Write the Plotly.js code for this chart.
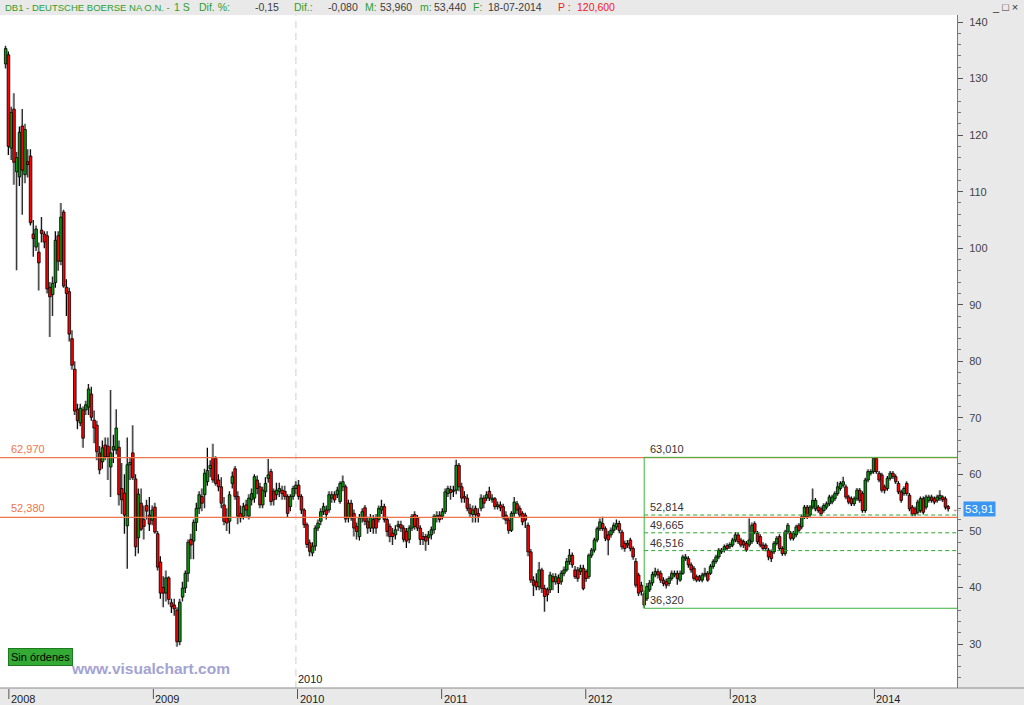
<!DOCTYPE html>
<html><head><meta charset="utf-8">
<script src="https://cdn.plot.ly/plotly-3.0.1.min.js"></script>
<style>html,body{margin:0;padding:0;background:#e9e9e9;}#chart{width:1024px;height:705px;}</style>
</head><body><div id="chart"></div>
<script>
// Weekly candles, first week starting 2007-12-31
const weekStart = '2007-12-31';
const open = [
132.6,134.2,117.7,124.6,113.5,112.6,121.6,113.0,115.3,116.3,
102.5,100.2,99.3,103.2,102.5,102.2,93.1,91.8,93.9,102.2,
97.7,106.4,93.1,92.3,84.0,78.6,71.5,69.1,71.4,71.4,
71.9,74.2,69.6,68.7,63.8,62.2,65.2,65.0,61.3,64.3,
64.3,64.8,57.5,56.7,50.9,61.7,63.8,59.2,48.8,54.9,
52.0,54.5,52.8,51.9,54.2,49.5,44.5,40.0,39.0,41.7,
37.3,36.9,36.0,30.4,38.3,39.9,42.5,48.5,48.2,51.5,
54.0,56.1,56.4,58.7,61.0,63.0,62.8,59.0,57.8,54.6,
52.3,51.7,58.4,61.0,56.1,53.1,52.6,54.6,52.6,55.5,
55.8,59.0,57.8,54.6,56.9,59.3,60.5,57.0,56.4,57.0,
57.2,57.0,56.1,54.3,56.1,57.5,58.1,56.1,53.7,51.1,
47.9,46.1,47.3,50.5,51.7,53.4,53.7,53.7,55.8,56.4,
56.4,55.2,57.8,57.8,52.3,54.9,53.1,50.8,49.0,52.3,
54.1,51.7,50.5,52.0,52.3,52.0,53.7,54.3,52.0,50.8,
49.6,49.3,50.8,51.1,50.5,49.9,48.5,50.5,52.9,52.3,
50.5,49.0,49.0,48.8,49.3,50.2,52.4,52.8,52.6,53.4,
56.6,57.3,57.0,57.2,61.6,57.8,56.1,55.8,54.0,52.9,
54.0,53.1,54.0,55.8,55.8,57.0,55.5,55.7,54.3,54.6,
54.3,52.8,51.9,50.1,53.1,54.8,54.0,53.1,52.8,51.0,
46.3,41.3,41.0,40.1,43.1,39.8,39.6,39.6,41.9,41.0,
41.7,41.0,42.5,43.1,44.6,45.7,43.1,43.1,42.8,43.4,
42.8,41.9,45.7,46.6,48.4,50.4,51.3,50.4,49.3,49.3,
50.1,50.7,51.3,49.8,47.8,47.5,48.4,46.9,44.6,42.2,
40.4,38.9,38.0,39.6,40.8,42.2,42.8,42.5,41.3,41.0,
40.7,41.6,42.2,42.5,41.3,42.5,45.1,45.1,44.0,43.4,
41.9,41.9,41.3,42.2,42.5,42.5,43.7,44.6,45.4,46.3,
46.6,47.4,47.2,47.5,48.4,49.3,48.4,48.1,47.8,47.5,
48.1,51.3,49.6,49.0,47.5,47.5,46.6,46.3,46.3,47.8,
49.0,46.9,46.0,49.8,49.6,48.7,49.3,51.0,50.7,52.5,
54.2,52.8,54.2,53.9,54.2,53.9,53.6,54.2,54.8,55.1,
55.7,56.6,57.5,58.1,57.8,56.0,55.7,54.8,55.7,57.2,
56.6,53.6,59.0,60.2,60.5,62.8,60.2,59.9,57.8,57.5,
59.3,60.2,59.6,58.4,56.9,56.6,58.4,56.3,54.2,53.9,
53.3,53.6,55.7,54.2,55.4,56.0,55.7,55.4,55.7,56.0,
55.7,54.3];
const high = [
135.8,134.8,125.0,127.4,117.0,121.5,124.6,122.0,117.5,117.5,
105.0,104.0,101.0,105.5,103.0,103.0,94.0,95.0,103.0,103.0,
108.0,106.8,94.5,93.0,85.5,80.0,72.5,72.5,72.0,73.0,
76.0,75.5,71.3,69.5,65.0,66.0,66.5,66.5,74.9,67.0,
71.5,66.0,62.0,60.0,66.5,63.0,68.7,60.0,57.5,57.5,
54.5,55.5,56.0,54.5,55.0,50.0,45.5,42.0,43.0,42.0,
38.0,38.0,36.5,38.0,41.0,43.0,48.5,49.5,52.0,55.0,
57.0,57.5,61.0,64.7,62.5,65.4,63.2,60.0,59.5,56.0,
54.0,57.0,60.5,61.5,57.0,54.5,55.0,55.5,56.5,57.5,
60.0,59.8,58.5,57.8,59.5,62.7,61.0,57.5,58.5,58.5,
58.0,58.0,56.5,56.5,58.0,58.8,59.0,56.5,54.0,51.5,
48.5,48.0,51.0,52.0,54.0,55.0,54.5,57.0,57.0,57.0,
57.8,58.8,59.8,58.2,55.5,55.5,53.8,51.5,53.0,54.0,
54.6,52.5,53.0,52.8,53.0,54.5,55.5,54.8,52.5,51.3,
50.5,51.0,51.8,51.8,51.0,50.5,51.0,53.0,53.5,52.8,
51.0,49.8,49.5,50.0,50.8,53.0,53.5,53.5,54.0,57.5,
58.0,58.0,58.0,62.6,62.0,58.5,57.0,56.5,54.8,54.5,
54.5,54.0,56.5,56.3,57.0,57.8,56.5,56.0,55.2,55.2,
54.8,53.5,52.3,53.5,56.0,55.3,54.5,53.5,53.2,51.5,
46.8,42.0,42.5,44.5,43.5,40.5,40.0,42.8,42.5,42.5,
42.3,43.0,43.7,45.2,46.8,46.2,43.8,43.6,44.0,44.0,
43.2,46.0,47.0,48.8,50.8,52.2,52.5,50.8,50.0,50.6,
51.5,52.0,51.8,50.2,48.3,48.4,48.8,47.3,45.2,42.6,
41.0,39.5,40.8,41.3,42.8,43.5,43.3,43.0,41.8,41.6,
42.0,43.0,43.0,43.0,43.0,45.8,45.9,45.5,44.4,43.8,
42.3,42.2,42.6,43.5,42.9,44.1,45.0,45.8,47.0,47.0,
47.6,47.8,48.0,48.8,49.8,49.7,48.8,48.5,48.2,52.2,
51.5,51.7,50.0,49.4,48.0,47.8,47.0,46.7,48.2,49.1,
49.4,47.3,50.2,51.4,50.0,50.0,51.1,51.4,52.9,54.6,
54.6,54.6,57.5,55.8,54.6,54.3,54.9,55.2,56.4,56.4,
57.0,58.7,58.8,59.6,58.2,56.4,56.1,56.1,57.6,57.6,
57.0,59.4,60.9,60.9,63.01,62.9,60.6,60.3,58.2,59.7,
60.6,60.6,60.0,58.8,57.3,57.9,58.8,56.7,54.6,54.3,
55.5,56.1,56.1,56.4,56.4,56.4,56.1,56.4,57.2,56.3,
56.1,54.6];
const low = [
131.8,116.5,115.6,111.2,96.1,111.0,105.9,111.5,112.5,104.0,
98.5,99.5,92.5,101.0,100.0,92.0,84.3,88.0,93.0,96.0,
97.0,93.0,88.0,83.5,78.5,70.5,68.0,68.5,64.7,70.5,
70.5,69.5,65.5,62.5,60.0,61.0,62.5,59.0,56.0,62.0,
63.5,54.5,53.0,49.5,43.3,59.0,59.0,45.5,46.0,50.0,
48.5,52.0,50.0,51.0,49.5,43.0,38.0,36.5,37.5,37.0,
35.5,35.0,29.5,29.8,37.5,39.0,41.0,45.0,45.0,50.0,
53.0,53.5,54.0,58.0,59.5,58.5,58.0,57.0,54.0,51.0,
50.0,49.5,57.5,55.5,51.2,51.5,52.0,52.5,52.0,54.5,
55.0,56.5,54.0,54.0,56.0,58.5,54.5,54.5,55.5,56.0,
55.5,55.5,52.3,53.5,55.5,56.5,55.5,53.0,50.5,47.0,
45.5,45.5,46.5,50.0,51.0,52.8,52.0,53.2,55.0,55.0,
55.8,54.8,57.0,51.5,51.5,51.8,49.0,48.5,48.3,51.5,
51.0,49.5,49.8,49.5,49.5,51.5,53.0,51.5,49.0,48.0,
47.5,48.5,50.0,49.8,48.0,47.0,47.8,50.0,50.2,50.0,
47.5,47.5,46.5,47.5,48.5,49.5,51.5,51.5,52.0,53.0,
56.0,55.5,56.0,56.5,57.0,55.0,55.0,53.5,52.5,51.5,
51.5,51.5,53.5,54.0,55.3,55.3,55.0,53.8,53.8,53.5,
52.0,51.2,49.5,49.8,52.5,53.0,52.3,51.0,50.5,45.5,
40.8,38.5,39.5,39.5,39.0,35.7,37.5,39.0,39.5,40.5,
39.0,40.5,42.0,42.8,44.0,43.5,41.5,41.0,42.2,39.5,
41.0,41.5,45.2,46.2,48.0,50.0,50.0,48.2,45.7,48.8,
49.6,50.2,49.6,46.7,46.3,47.0,46.4,44.9,40.0,38.5,
38.6,36.32,37.6,39.2,40.3,41.8,41.6,40.8,40.2,39.8,
40.2,41.2,41.8,40.5,41.0,42.2,44.7,43.5,42.6,41.2,
40.9,41.0,40.9,41.8,41.0,42.2,43.3,44.2,45.0,45.9,
46.2,46.5,46.8,47.1,48.0,47.7,47.1,47.0,46.3,47.1,
47.7,49.4,47.7,47.1,46.5,46.4,44.8,44.5,45.9,47.4,
46.5,45.6,45.6,49.4,48.3,48.3,48.9,49.7,50.3,52.1,
52.1,52.4,53.8,53.5,53.2,52.6,53.2,53.8,54.4,54.7,
55.3,56.2,57.1,57.7,55.6,54.7,54.4,54.4,55.3,55.0,
53.2,53.2,58.6,59.8,60.1,60.1,58.6,56.8,56.6,57.1,
58.9,59.2,58.3,56.5,55.0,56.2,56.2,53.5,52.6,52.6,
52.9,53.2,52.9,53.8,55.0,55.0,54.7,55.0,55.3,55.1,
53.8,53.44];
const close = [
135.3,118.0,124.0,115.2,116.0,120.5,113.8,121.0,114.8,104.5,
101.7,103.4,97.4,102.6,101.1,92.8,91.4,93.8,101.4,97.7,
105.5,93.3,92.0,84.8,79.3,71.2,69.5,71.7,66.4,72.3,
75.1,70.1,68.2,64.0,60.8,64.7,63.1,63.1,63.8,64.9,
68.2,56.4,55.5,52.8,61.7,62.1,59.4,47.2,56.5,50.3,
50.8,53.5,51.2,53.7,49.8,43.6,39.0,39.0,41.7,37.9,
36.6,36.2,30.4,37.4,39.9,42.5,48.0,47.5,51.5,54.0,
56.4,54.9,60.2,60.7,61.6,59.0,58.4,57.8,54.9,51.7,
51.4,56.4,59.6,56.1,52.6,52.3,54.3,53.7,55.8,56.6,
59.6,57.5,54.6,57.2,58.4,59.9,55.2,55.5,57.2,57.5,
56.6,56.1,53.1,56.1,57.5,58.1,56.1,53.7,51.1,47.6,
46.4,47.3,50.5,51.4,53.4,54.3,52.9,56.4,56.4,55.5,
57.2,58.4,58.7,52.1,54.9,52.3,50.5,49.9,52.3,53.4,
51.7,50.5,52.4,50.5,50.5,54.0,54.3,52.0,49.9,49.0,
49.0,50.2,51.1,50.5,48.5,48.2,50.5,52.6,50.8,50.5,
48.5,48.5,48.2,49.3,50.2,52.6,52.7,52.0,53.4,56.9,
57.5,56.8,57.2,61.6,57.8,55.8,55.8,54.0,53.1,53.7,
52.9,52.6,55.8,54.9,56.4,55.8,55.8,54.3,54.6,54.1,
52.5,51.9,50.1,53.1,55.1,53.7,52.8,51.6,51.9,46.3,
41.3,40.4,40.1,43.1,39.8,38.4,38.7,42.2,41.0,41.9,
40.7,42.5,43.1,44.6,45.7,44.0,41.9,41.6,43.4,39.8,
41.6,45.7,46.6,48.4,50.4,51.6,50.4,48.7,48.4,50.1,
51.0,51.3,50.1,47.2,46.9,47.8,46.9,45.4,40.4,39.0,
39.3,36.9,40.2,40.8,42.3,42.8,42.2,41.3,40.7,40.4,
41.6,42.5,42.5,41.6,42.5,45.4,45.4,44.0,43.1,41.6,
41.3,41.3,42.2,42.5,41.3,43.7,44.6,45.4,46.6,46.6,
47.2,46.9,47.6,48.4,49.3,48.1,47.5,47.5,46.6,48.4,
51.0,49.8,48.1,47.5,46.9,46.9,45.4,45.1,47.8,48.7,
46.9,46.0,49.8,51.0,48.7,49.6,50.7,50.1,52.5,54.2,
52.5,54.2,55.4,55.4,53.6,53.0,54.5,54.8,56.0,56.0,
56.6,57.8,58.4,58.7,56.0,55.1,54.8,55.7,57.2,55.4,
53.6,59.0,60.5,60.5,62.8,60.5,59.0,57.2,57.2,59.3,
60.2,59.6,58.7,56.9,55.4,57.5,56.6,53.9,53.0,53.0,
55.1,55.7,53.3,56.0,56.0,55.4,55.1,56.0,56.3,55.5,
54.2,53.91];

const yearLabels = ['2008','2009','2010','2011','2012','2013','2014'];
const yearTickDates = ['2008-01-08','2009-01-08','2010-01-08','2011-01-08','2012-01-08','2013-01-08','2014-01-08'];
const resistanceLevels = [62.97, 52.38];
const resistanceLabels = ['62,970', '52,380'];
const boxStartDate = '2012-06-04';
const boxLevels = [63.01, 36.32];
const boxLabels = ['63,010', '36,320'];
const fiboLevels = [52.814, 49.665, 46.516];
const fiboLabels = ['52,814', '49,665', '46,516'];
const lastPrice = 53.91;
const lastPriceLabel = '53,91';
const headerParts = [
  ['DB1 - DEUTSCHE BOERSE NA O.N. -', 3, 'g', 9.5],
  ['1 S', 172, 'g', 10.5],
  ['Dif. %:', 197, 'g', 10.5], ['-0,15', 253, 'd', 10.5],
  ['Dif.:', 292, 'g', 10.5], ['-0,080', 326, 'd', 10.5],
  ['M:', 363, 'g', 10.5], ['53,960', 378, 'd', 10.5],
  ['m:', 418, 'g', 10.5], ['53,440', 432, 'd', 10.5],
  ['F:', 471, 'g', 10.5], ['18-07-2014', 486, 'd', 10.5],
  ['P :', 556, 'r', 10.5], ['120,600', 575, 'r', 10.5]
];

const DAY = 86400000;
const t0 = Date.parse(weekStart + 'T00:00:00Z');
const dates = open.map((_, i) => new Date(t0 + i * 7 * DAY).toISOString());
// drop-shadow copy sits about one pixel to the left
const shadowDates = open.map((_, i) => new Date(t0 + i * 7 * DAY - 2.5 * DAY).toISOString());
const xStart = '2007-12-16 13:26';
const xEnd = '2014-08-05 04:00';

const PW = 957, PH = 673;
const FONT = 'Liberation Sans, Arial, sans-serif';
const colorOf = {g: '#2f9e2f', d: '#3c3c3c', r: '#ee2222'};

// candle geometry for bar traces, built from the OHLC arrays
const wickLen = high.map((h, i) => h - low[i]);
const bodyBase = open.map((o, i) => Math.min(o, close[i]));
const bodyLen = open.map((o, i) => Math.max(Math.abs(close[i] - o), 0.15));
const bodyColor = open.map((o, i) => close[i] >= o ? '#0a960a' : '#ff0000');

const shadowWicks = {
  type: 'bar', x: shadowDates, y: wickLen, base: low, width: 2.6 * DAY,
  marker: {color: '#bdbdbd', line: {width: 0}}, hoverinfo: 'skip'
};
const wicks = {
  type: 'bar', x: dates, y: wickLen, base: low, width: 2.6 * DAY,
  marker: {color: '#000000', line: {width: 0}}, hoverinfo: 'skip'
};
const bodies = {
  type: 'bar', x: dates, y: bodyLen, base: bodyBase, width: 6.6 * DAY,
  marker: {color: bodyColor, line: {color: '#000000', width: 0.8}},
  hoverinfo: 'skip'
};

const shapes = [];
const annotations = [];

// 2010 dashed separator
shapes.push({type: 'line', xref: 'x', yref: 'paper', x0: '2010-01-04', x1: '2010-01-04', y0: 0, y1: 1,
  line: {color: '#cfcfcf', width: 1, dash: '7px,5px'}, layer: 'below'});
annotations.push({xref: 'x', yref: 'paper', x: '2010-01-04', y: 0, xanchor: 'left', yanchor: 'bottom',
  xshift: 0, yshift: 1, text: '2010', showarrow: false, font: {family: FONT, size: 11, color: '#222'}});

// orange levels
resistanceLevels.forEach((lv, k) => {
  shapes.push({type: 'line', xref: 'paper', yref: 'y', x0: 0, x1: 1, y0: lv, y1: lv,
    line: {color: '#f0754a', width: 1.3}});
  annotations.push({xref: 'paper', yref: 'y', x: 0, y: lv, xanchor: 'left', yanchor: 'bottom', xshift: 9, yshift: 1,
    text: resistanceLabels[k], showarrow: false, font: {family: FONT, size: 11, color: '#f0754a'}});
});

// green retracement box
shapes.push({type: 'line', xref: 'x', yref: 'y', x0: boxStartDate, x1: boxStartDate, y0: boxLevels[1], y1: boxLevels[0],
  line: {color: '#3cb43c', width: 1}});
boxLevels.forEach((lv, k) => {
  shapes.push({type: 'line', xref: 'x', yref: 'y', x0: boxStartDate, x1: xEnd, y0: lv, y1: lv,
    line: {color: '#3cb43c', width: 1}});
  annotations.push({xref: 'x', yref: 'y', x: boxStartDate, y: lv, xanchor: 'left', yanchor: 'bottom', xshift: 4, yshift: 0,
    text: boxLabels[k], showarrow: false, font: {family: FONT, size: 11, color: '#333'}});
});
fiboLevels.forEach((lv, k) => {
  shapes.push({type: 'line', xref: 'x', yref: 'y', x0: boxStartDate, x1: xEnd, y0: lv, y1: lv,
    line: {color: '#2ea62e', width: 1, dash: '4px,3px'}});
  annotations.push({xref: 'x', yref: 'y', x: boxStartDate, y: lv, xanchor: 'left', yanchor: 'bottom', xshift: 4, yshift: 0,
    text: fiboLabels[k], showarrow: false, font: {family: FONT, size: 11, color: '#333'}});
});

// bottom strip border + year ticks and labels
shapes.push({type: 'line', xref: 'paper', yref: 'paper', x0: 0, x1: 1024 / PW, y0: 0, y1: 0,
  line: {color: '#8a8a8a', width: 1}});
yearTickDates.forEach((d, k) => {
  shapes.push({type: 'line', xref: 'x', yref: 'paper', x0: d, x1: d, y0: -1 / PH, y1: -11 / PH,
    line: {color: '#555', width: 1}});
  annotations.push({xref: 'x', yref: 'paper', x: d, y: 0, xanchor: 'left', yanchor: 'top', xshift: 0, yshift: -3,
    text: yearLabels[k], showarrow: false, font: {family: FONT, size: 11, color: '#222'}});
});

// header
headerParts.forEach(p => {
  annotations.push({xref: 'paper', yref: 'paper', x: p[1] / PW, y: 1, xanchor: 'left', yanchor: 'bottom', yshift: 0,
    xshift: 0, text: p[0], showarrow: false, font: {family: FONT, size: p[3], color: colorOf[p[2]]}});
});
annotations.push({xref: 'paper', yref: 'paper', x: 1020 / PW, y: 1, xanchor: 'right', yanchor: 'bottom', yshift: 0,
  text: '_ \u25a1 \u00d7', showarrow: false, font: {family: FONT, size: 11, color: '#333'}});

// last price tag
annotations.push({xref: 'paper', yref: 'y', x: 1, y: lastPrice, xanchor: 'left', yanchor: 'middle', xshift: 6,
  text: lastPriceLabel, showarrow: false, bgcolor: '#3a96f0', borderpad: 1,
  font: {family: FONT, size: 11.5, color: '#ffffff'}});
annotations.push({xref: 'paper', yref: 'y', x: 1, y: lastPrice, xanchor: 'right', yanchor: 'middle', xshift: 7,
  text: '\u2190', showarrow: false, font: {family: FONT, size: 10, color: '#666'}});

// branding
annotations.push({xref: 'paper', yref: 'paper', x: 8 / PW, y: 22 / PH, xanchor: 'left', yanchor: 'bottom',
  text: 'Sin \u00f3rdenes', showarrow: false, bgcolor: '#33aa33', bordercolor: '#1e7a1e', borderwidth: 1, borderpad: 2,
  font: {family: FONT, size: 11, color: '#000'}});
annotations.push({xref: 'paper', yref: 'paper', x: 69 / PW, y: 9 / PH, xanchor: 'left', yanchor: 'bottom',
  text: '<b>www.visualchart.com</b>', showarrow: false,
  font: {family: FONT, size: 15.5, color: '#a3a3d3'}});

const layout = {
  width: 1024, height: 705,
  margin: {l: 0, r: 67, t: 15, b: 17, pad: 0},
  paper_bgcolor: '#e9e9e9', plot_bgcolor: '#ffffff',
  showlegend: false, hovermode: false, dragmode: false,
  barmode: 'overlay',
  xaxis: {type: 'date', range: [xStart, xEnd], showgrid: false, zeroline: false, showticklabels: false,
    ticks: '', showline: false, fixedrange: true},
  yaxis: {side: 'right', range: [22.22, 141.24], tick0: 0, dtick: 10, ticks: 'outside', ticklen: 5,
    tickcolor: '#555', showline: true, linecolor: '#777', linewidth: 1, showgrid: false, zeroline: false,
    ticklabelstandoff: 4,
    tickfont: {family: FONT, size: 11, color: '#444'}, fixedrange: true,
    minor: {dtick: 2, ticks: 'outside', ticklen: 3, tickcolor: '#777', showgrid: false}},
  shapes: shapes, annotations: annotations
};

Plotly.newPlot('chart', [shadowWicks, wicks, bodies], layout, {staticPlot: true, displayModeBar: false});
</script>
</body></html>
